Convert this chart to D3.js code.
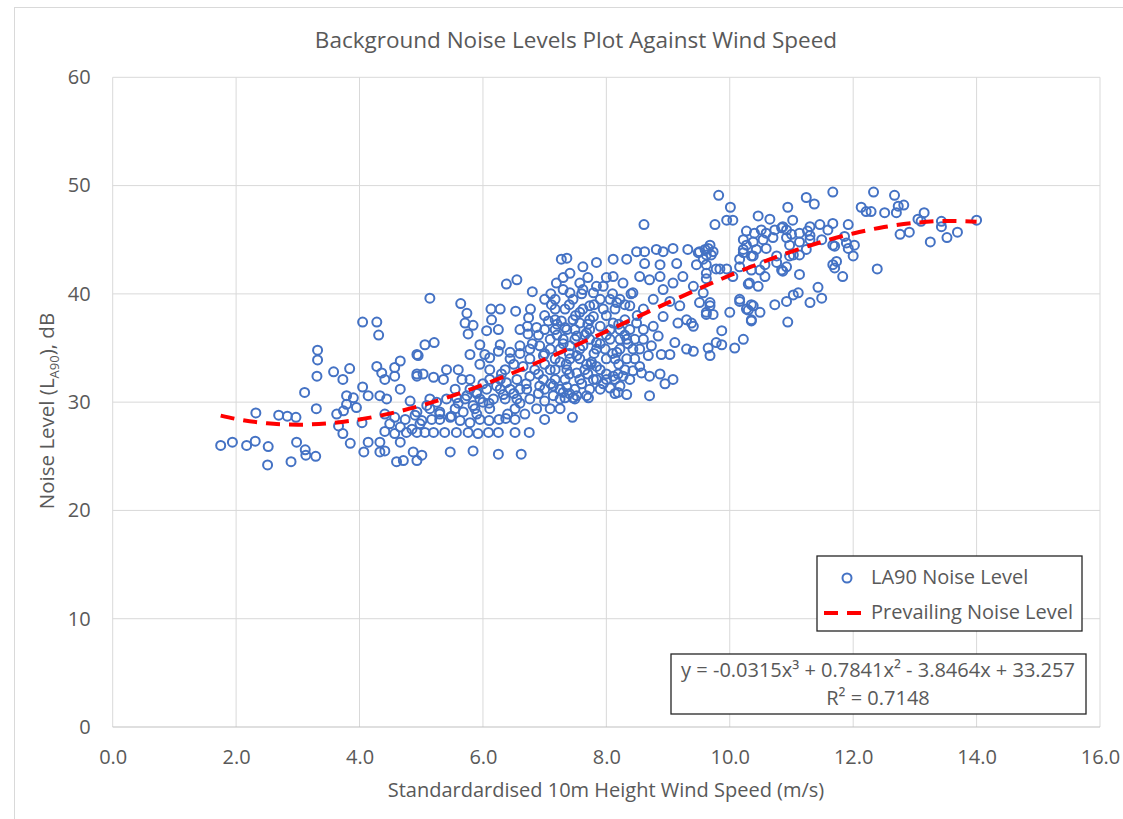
<!DOCTYPE html>
<html lang="en">
<head>
<meta charset="UTF-8">
<title>Background Noise Levels Plot Against Wind Speed</title>
<script src="https://d3js.org/d3.v7.min.js"></script>
<style>
  body { margin: 0; background: #fff; }
  text { font-family: "Open Sans", "Noto Sans", sans-serif; fill: #595959; }
</style>
</head>
<body>
<script>
// wind speed (m/s) of each LA90 reading
const windSpeed = [
  4.05,4.28,4.31,3.32,3.32,3.31,3.58,3.84,3.73,3.11,3.30,2.32,2.69,2.83,2.97,3.63,3.66,3.73,3.85,1.75,
  1.94,2.17,2.31,2.52,2.98,3.12,3.13,3.29,2.89,2.51,4.05,4.14,4.07,4.33,4.41,4.14,3.79,3.90,3.79,3.95,
  3.74,4.04,4.28,4.36,4.66,4.57,4.57,4.93,4.33,4.44,4.66,4.82,4.93,4.41,4.60,4.71,4.87,4.33,4.66,4.76,
  4.41,4.57,4.74,4.90,4.49,4.66,4.85,4.41,4.98,4.57,
  5.14,5.64,5.74,5.71,5.84,5.76,6.13,6.28,6.14,6.25,6.06,6.53,6.77,6.74,6.72,6.60,6.38,6.55,6.80,7.11,
  7.19,5.06,5.21,4.95,5.41,5.60,5.66,5.36,5.20,4.93,5.03,5.95,6.11,6.25,6.44,6.60,6.73,6.87,7.06,7.27,
  7.33,6.92,6.98,6.98,6.92,7.14,7.30,7.52,7.68,7.84,7.76,7.84,7.62,7.52,7.41,7.57,7.73,7.90,7.41,7.62,
  7.84,7.36,7.52,7.25,7.09,6.65,6.76,6.55,6.38,6.22,6.06,5.90,5.74,5.57,5.41,5.25,5.09,4.93,5.01,5.17,
  5.30,5.49,5.68,5.84,6.00,6.17,6.33,6.44,6.55,6.71,6.87,6.68,6.37,6.26,6.10,5.95,5.79,5.63,5.47,7.45,
  4.93,5.06,5.20,5.38,5.57,5.76,5.92,6.09,6.25,6.52,6.75,5.47,5.84,6.25,6.62,5.01,4.93,
  8.49,8.62,8.81,8.92,9.08,9.32,9.49,9.68,9.62,8.62,8.33,8.11,7.84,7.62,7.36,7.27,8.87,9.14,9.46,9.62,
  9.78,9.95,10.05,10.16,10.22,10.35,10.27,10.43,10.32,10.46,10.16,10.27,10.38,10.35,10.00,9.87,9.78,9.65,9.68,10.08,
  10.22,9.30,9.41,9.11,9.03,8.89,8.68,8.54,8.70,8.87,9.08,8.95,8.70,8.33,8.19,8.27,8.11,7.46,7.90,7.36,
  7.57,7.79,8.00,8.22,9.51,9.68,9.62,9.73,9.30,9.16,9.38,9.41,8.92,8.76,8.84,8.73,8.60,8.43,8.33,8.22,
  8.11,7.90,7.79,7.62,7.46,7.36,7.30,7.52,7.68,7.84,8.00,8.17,8.33,8.49,8.60,8.76,8.92,9.08,9.24,9.41,
  9.57,9.03,9.19,8.43,8.27,8.11,7.95,7.79,7.57,7.41,7.30,7.46,8.54,8.70,8.87,8.38,8.17,7.95,8.60,7.84,
  8.06,7.68,7.57,
  9.82,10.01,9.95,10.05,9.76,10.46,10.65,10.94,11.24,11.37,11.67,11.02,10.27,10.40,10.51,10.59,10.73,10.86,11.00,11.13,
  11.30,11.46,11.59,11.67,11.92,10.22,10.38,10.54,10.70,10.92,11.13,11.30,11.49,11.67,11.89,12.02,12.00,11.86,10.22,10.38,
  10.59,10.76,10.97,11.13,11.24,10.97,10.76,10.92,10.86,10.57,10.49,10.35,10.16,9.84,9.62,9.62,9.73,9.60,9.57,10.30,
  10.57,11.13,11.03,11.11,11.43,11.30,11.49,10.92,10.73,10.35,10.16,10.30,10.49,10.35,9.68,9.62,10.94,9.87,11.67,11.73,
  11.70,11.83,12.39,12.13,12.21,12.29,12.33,12.51,12.67,12.70,12.73,12.82,13.15,13.05,13.10,13.43,13.43,12.76,12.91,13.25,
  13.52,13.69,14.00,8.61,9.51,9.65,9.70,11.26,10.92,10.84,11.30,11.70,11.92,11.03,10.84,
  8.57,8.43,8.14,8.19,8.06,7.71,7.49,7.33,7.14,7.00,
  7.00,7.17,8.06,8.22,7.17,7.33,8.14,7.17,7.73,8.30,7.00,7.17,7.49,7.73,8.06,8.38,7.09,7.49,7.73,8.22,
  8.46,6.76,7.09,7.25,7.57,7.98,8.22,8.54,6.44,6.76,7.17,7.41,7.57,8.14,8.46,6.11,6.36,6.84,7.17,7.65,
  7.90,8.30,5.79,6.11,6.28,7.17,7.33,8.14,8.38,5.55,5.79,6.28,6.60,7.00,7.25,7.49,7.73,5.14,5.71,5.95,
  6.36,6.76,7.25,5.14,5.55,5.87,6.11,6.52,7.09,7.25,5.30,6.52,7.00,5.95,6.28,5.79,6.03,
  7.30,7.70,8.00,7.10,7.60,8.10,8.40,7.40,7.80,8.30,7.00,7.50,8.00,8.50,7.20,7.70,8.20,6.90,7.20,7.65,
  8.00,8.30,6.80,7.30,7.90,8.35,6.60,7.00,7.40,7.80,8.10,6.50,7.00,7.35,7.75,8.20,6.30,6.90,7.40,7.70,
  8.00,6.00,6.70,7.10,7.60,7.95,5.90,6.50,6.90,7.40,5.60,6.10,6.60,5.30,5.90,6.40
];

// LA90 noise level (dB), same order as windSpeed
const noiseLevel = [
  37.4,37.4,36.2,34.8,33.9,32.4,32.8,33.1,32.1,30.9,29.4,29.0,28.8,28.7,28.6,28.9,27.8,27.1,26.2,26.0,
  26.3,26.0,26.4,25.9,26.3,25.6,25.1,25.0,24.5,24.2,31.4,30.6,25.4,25.4,25.5,26.3,30.6,30.4,29.8,29.5,
  29.2,28.1,33.3,32.7,33.8,33.2,32.4,34.4,30.6,30.3,31.2,30.1,32.4,32.1,24.5,24.6,25.4,26.3,26.3,27.2,
  28.9,28.6,28.4,28.8,28.0,27.7,27.5,27.3,28.0,27.1,
  39.6,39.1,38.2,37.3,37.1,36.3,38.6,38.6,37.6,36.7,36.6,38.4,38.6,37.8,37.0,36.7,40.9,41.3,40.2,39.0,
  41.0,35.3,35.5,34.3,33.0,33.0,32.1,32.1,32.3,32.6,32.6,33.5,34.1,34.7,34.6,35.2,36.3,36.9,37.5,37.5,
  36.9,35.2,34.3,32.1,31.5,31.5,30.9,30.6,30.6,32.1,33.7,34.9,35.2,36.1,35.2,38.3,38.9,39.5,40.1,40.4,
  40.7,33.0,32.7,33.7,33.0,33.3,32.4,32.1,31.8,31.5,31.2,30.9,30.6,30.4,30.3,30.0,29.7,29.1,28.3,28.4,
  29.1,28.7,29.1,29.7,30.0,30.3,30.7,31.2,30.3,31.2,29.4,28.9,28.5,28.4,28.3,28.4,28.1,28.3,28.6,28.6,
  27.2,27.2,27.2,27.2,27.2,27.2,27.1,27.2,27.2,27.2,27.2,25.4,25.5,25.2,25.2,25.1,24.6,
  43.9,43.9,44.1,43.9,44.2,44.1,43.8,44.5,43.6,42.8,43.2,43.2,42.9,42.5,43.3,43.2,42.7,42.8,42.7,42.7,
  42.3,42.3,41.6,42.5,43.8,43.5,44.5,44.1,41.0,40.7,39.5,38.6,38.9,37.6,38.3,36.6,35.5,35.0,34.3,35.0,
  35.8,34.9,34.7,35.5,34.4,34.4,34.3,33.3,32.4,32.6,32.1,31.7,30.6,30.7,30.9,32.4,32.4,30.4,31.2,31.4,
  32.1,32.1,32.1,31.5,39.2,39.2,38.1,38.1,37.6,37.3,37.3,37.0,37.9,37.0,36.1,35.2,35.8,34.9,35.8,36.7,
  37.3,37.0,37.9,38.6,37.6,36.7,35.8,34.3,33.5,33.3,34.0,34.6,34.0,37.3,38.6,39.5,40.4,41.0,41.6,40.7,
  40.1,39.3,38.9,40.1,41.0,41.6,40.7,40.1,41.0,41.9,40.4,39.5,41.6,41.3,41.6,38.9,39.2,38.6,36.7,35.5,
  35.8,36.4,37.3,
  49.1,48.0,46.8,46.8,46.4,47.2,46.9,48.0,48.9,48.3,49.4,46.8,45.8,45.6,45.9,45.6,45.9,46.2,45.5,45.6,
  46.2,46.4,45.9,46.5,46.4,45.0,44.8,45.0,45.2,45.2,44.8,45.4,45.0,44.5,44.7,44.5,43.5,45.3,44.1,43.5,
  44.2,43.5,43.5,43.6,44.1,44.5,42.9,42.5,42.1,42.7,42.2,42.2,43.2,42.3,41.9,41.4,43.9,44.1,43.2,40.9,
  41.6,41.8,39.9,40.1,40.6,39.2,39.6,39.3,39.0,39.0,39.3,38.5,38.3,37.5,38.9,38.3,37.4,35.3,42.7,43.0,
  42.4,41.6,42.3,48.0,47.6,47.6,49.4,47.5,49.1,47.5,48.1,48.2,47.5,46.9,46.7,46.7,46.2,45.5,45.7,44.8,
  45.2,45.7,46.8,46.4,43.9,44.2,43.6,45.8,45.9,46.1,45.0,44.4,44.2,43.6,42.2,
  32.7,32.9,30.8,32.6,31.3,30.4,30.3,30.4,30.6,30.1,
  39.5,39.5,39.5,39.5,38.6,38.6,38.6,37.6,37.6,37.6,36.7,36.7,36.7,36.7,36.7,36.7,35.8,35.8,35.8,35.8,
  35.8,34.9,34.9,34.9,34.9,34.9,34.9,34.9,34.0,34.0,34.0,34.0,34.0,34.0,34.0,33.0,33.0,33.0,33.0,33.0,
  33.0,33.0,32.1,32.1,32.1,32.1,32.1,32.1,32.1,31.2,31.2,31.2,31.2,31.2,31.2,31.2,31.2,30.3,30.3,30.3,
  30.3,30.3,30.3,29.4,29.4,29.4,29.4,29.4,29.4,29.4,28.4,28.4,28.4,35.3,35.3,34.4,34.4,
  41.5,41.5,41.5,40.0,40.0,40.0,40.0,39.0,39.0,39.0,38.0,38.0,38.0,38.0,37.2,37.2,37.2,36.2,36.2,36.2,
  36.2,36.2,35.4,35.4,35.4,35.4,34.5,34.5,34.5,34.5,34.5,33.5,33.5,33.5,33.5,33.5,32.6,32.6,32.6,32.6,
  32.6,31.7,31.7,31.7,31.7,31.7,30.8,30.8,30.8,30.8,29.9,29.9,29.9,28.9,28.9,28.9
];

// prevailing noise level trend
const trendSpeed = [1.75, 2, 2.5, 3, 3.5, 4, 4.5, 5, 6, 7, 8, 9, 10, 11, 12, 12.5, 13, 13.5, 14];
const trendLevel = [28.76, 28.45, 28.05, 27.92, 28.05, 28.40, 28.96, 29.69, 31.60, 33.95, 36.54, 39.19, 41.70, 43.90, 45.58, 46.17, 46.56, 46.73, 46.66];

const xTicks = [0, 2, 4, 6, 8, 10, 12, 14, 16];
const yTicks = [0, 10, 20, 30, 40, 50, 60];

const points = windSpeed.map((d, i) => ({ x: d, y: noiseLevel[i] }));
const trend = trendSpeed.map((d, i) => ({ x: d, y: trendLevel[i] }));

const W = 1123, H = 819;
const plotLeft = 112.7, plotRight = 1100, plotTop = 77.3, plotBottom = 727;

const svg = d3.select("body").append("svg")
    .attr("width", W).attr("height", H);

// outer chart frame
svg.append("rect")
    .attr("x", 14.5).attr("y", 7.5).attr("width", 1120).attr("height", 820)
    .attr("fill", "none").attr("stroke", "#d9d9d9");

const x = d3.scaleLinear().domain([0, 16]).range([plotLeft, plotRight]);
const y = d3.scaleLinear().domain([0, 60]).range([plotBottom, plotTop]);

// gridlines
svg.append("g").selectAll("line").data(xTicks).join("line")
    .attr("x1", d => x(d)).attr("x2", d => x(d))
    .attr("y1", plotTop).attr("y2", plotBottom)
    .attr("stroke", "#d9d9d9");
svg.append("g").selectAll("line").data(yTicks).join("line")
    .attr("x1", plotLeft).attr("x2", plotRight)
    .attr("y1", d => y(d)).attr("y2", d => y(d))
    .attr("stroke", d => d === 0 ? "#bfbfbf" : "#d9d9d9");

// axes (labels only, lines come from the grid)
const xAxis = svg.append("g")
    .attr("transform", `translate(0,${plotBottom})`)
    .call(d3.axisBottom(x).tickValues(xTicks).tickFormat(d3.format(".1f")).tickSize(0).tickPadding(23));
const yAxis = svg.append("g")
    .attr("transform", `translate(${plotLeft},0)`)
    .call(d3.axisLeft(y).tickValues(yTicks).tickSize(0).tickPadding(22));
[xAxis, yAxis].forEach(a => {
    a.select(".domain").remove();
    a.selectAll("text").attr("font-size", 20).attr("fill", "#595959")
        .style("font-family", '"Open Sans", sans-serif');
});

// scatter
svg.append("g").selectAll("circle").data(points).join("circle")
    .attr("cx", d => x(d.x)).attr("cy", d => y(d.y))
    .attr("r", 4.5)
    .attr("fill", "none")
    .attr("stroke", "#4472c4")
    .attr("stroke-width", 2);

// trend line
svg.append("path")
    .datum(trend)
    .attr("fill", "none")
    .attr("stroke", "#ff0000")
    .attr("stroke-width", 4)
    .attr("stroke-dasharray", "14,9")
    .attr("d", d3.line().curve(d3.curveMonotoneX).x(d => x(d.x)).y(d => y(d.y)));

// title and axis titles
svg.append("text")
    .attr("x", 576).attr("y", 48)
    .attr("text-anchor", "middle").attr("font-size", 22.5)
    .text("Background Noise Levels Plot Against Wind Speed");

svg.append("text")
    .attr("x", 606).attr("y", 797)
    .attr("text-anchor", "middle").attr("font-size", 20)
    .text("Standardardised 10m Height Wind Speed (m/s)");

const yt = svg.append("text")
    .attr("transform", "translate(54,411) rotate(-90)")
    .attr("text-anchor", "middle").attr("font-size", 20.5);
yt.append("tspan").text("Noise Level (L");
yt.append("tspan").attr("font-size", 13).attr("dy", 5).text("A90");
yt.append("tspan").attr("dy", -5).text("), dB");

// legend
const lg = svg.append("g");
lg.append("rect")
    .attr("x", 817).attr("y", 556).attr("width", 265).attr("height", 75)
    .attr("fill", "#fff").attr("stroke", "#262626").attr("stroke-width", 1.3);
lg.append("circle")
    .attr("cx", 847).attr("cy", 578).attr("r", 4.5)
    .attr("fill", "none").attr("stroke", "#4472c4").attr("stroke-width", 2);
lg.append("text").attr("x", 871).attr("y", 584).attr("font-size", 20).text("LA90 Noise Level");
lg.append("line")
    .attr("x1", 824).attr("x2", 868).attr("y1", 613).attr("y2", 613)
    .attr("stroke", "#ff0000").attr("stroke-width", 4).attr("stroke-dasharray", "14,9");
lg.append("text").attr("x", 871).attr("y", 619).attr("font-size", 20).text("Prevailing Noise Level");

// trendline equation box
const eq = svg.append("g");
eq.append("rect")
    .attr("x", 671).attr("y", 654).attr("width", 415).attr("height", 60)
    .attr("fill", "#fff").attr("stroke", "#262626").attr("stroke-width", 1.3);
eq.append("text").attr("x", 878).attr("y", 677).attr("text-anchor", "middle").attr("font-size", 20)
    .text("y = -0.0315x³ + 0.7841x² - 3.8464x + 33.257");
eq.append("text").attr("x", 878).attr("y", 705).attr("text-anchor", "middle").attr("font-size", 20)
    .text("R² = 0.7148");
</script>
</body>
</html>
